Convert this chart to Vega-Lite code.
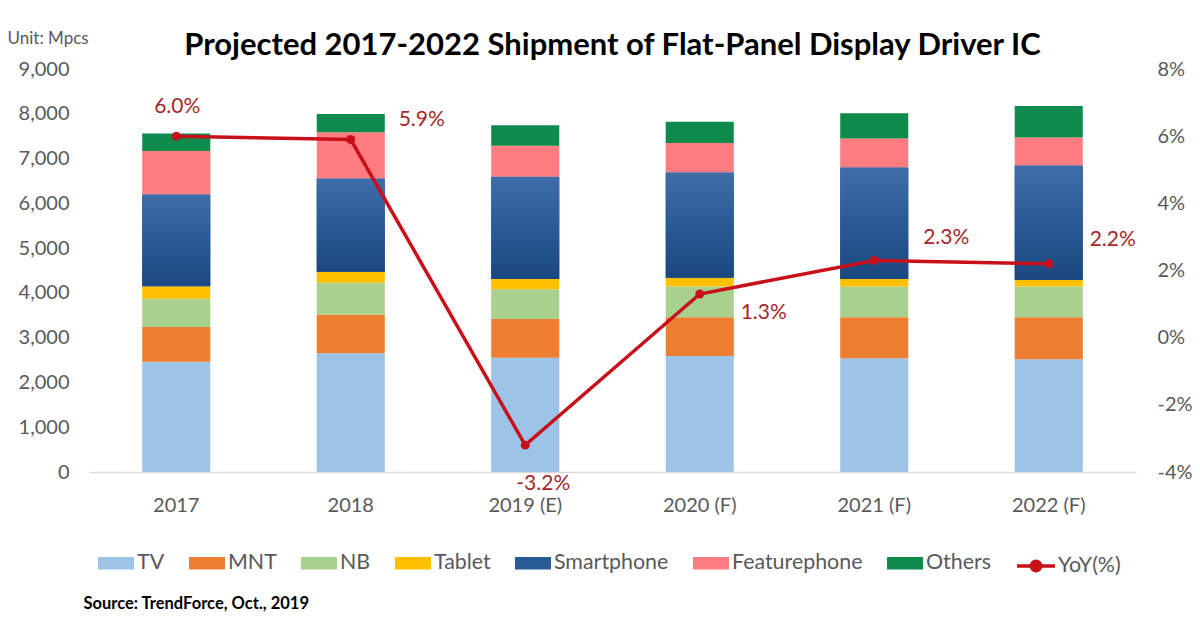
{
  "$schema": "https://vega.github.io/schema/vega-lite/v6.json",
  "width": 1047,
  "height": 403,
  "autosize": {"type": "none"},
  "padding": {"left": 89, "top": 69, "right": 64, "bottom": 146},
  "background": "white",
  "title": {
    "text": "Projected 2017-2022 Shipment of Flat-Panel Display Driver IC",
    "font": "Lato",
    "fontSize": 31,
    "fontWeight": "bold",
    "color": "#000000",
    "anchor": "middle",
    "offset": 8,
    "dy": 41
  },
  "config": {"view": {"stroke": null}, "font": "Lato"},
  "datasets": {
    "ship": [
      {"year": "2017", "segment": "TV", "value": 2460},
      {"year": "2017", "segment": "MNT", "value": 780},
      {"year": "2017", "segment": "NB", "value": 630},
      {"year": "2017", "segment": "Tablet", "value": 280},
      {"year": "2017", "segment": "Smartphone", "value": 2050},
      {"year": "2017", "segment": "Featurephone", "value": 970},
      {"year": "2017", "segment": "Others", "value": 390},
      {"year": "2018", "segment": "TV", "value": 2650},
      {"year": "2018", "segment": "MNT", "value": 870},
      {"year": "2018", "segment": "NB", "value": 705},
      {"year": "2018", "segment": "Tablet", "value": 245},
      {"year": "2018", "segment": "Smartphone", "value": 2085},
      {"year": "2018", "segment": "Featurephone", "value": 1030},
      {"year": "2018", "segment": "Others", "value": 410},
      {"year": "2019 (E)", "segment": "TV", "value": 2550},
      {"year": "2019 (E)", "segment": "MNT", "value": 865},
      {"year": "2019 (E)", "segment": "NB", "value": 665},
      {"year": "2019 (E)", "segment": "Tablet", "value": 230},
      {"year": "2019 (E)", "segment": "Smartphone", "value": 2285},
      {"year": "2019 (E)", "segment": "Featurephone", "value": 690},
      {"year": "2019 (E)", "segment": "Others", "value": 460},
      {"year": "2020 (F)", "segment": "TV", "value": 2590},
      {"year": "2020 (F)", "segment": "MNT", "value": 865},
      {"year": "2020 (F)", "segment": "NB", "value": 685},
      {"year": "2020 (F)", "segment": "Tablet", "value": 200},
      {"year": "2020 (F)", "segment": "Smartphone", "value": 2350},
      {"year": "2020 (F)", "segment": "Featurephone", "value": 660},
      {"year": "2020 (F)", "segment": "Others", "value": 470},
      {"year": "2021 (F)", "segment": "TV", "value": 2540},
      {"year": "2021 (F)", "segment": "MNT", "value": 915},
      {"year": "2021 (F)", "segment": "NB", "value": 685},
      {"year": "2021 (F)", "segment": "Tablet", "value": 170},
      {"year": "2021 (F)", "segment": "Smartphone", "value": 2490},
      {"year": "2021 (F)", "segment": "Featurephone", "value": 650},
      {"year": "2021 (F)", "segment": "Others", "value": 560},
      {"year": "2022 (F)", "segment": "TV", "value": 2520},
      {"year": "2022 (F)", "segment": "MNT", "value": 935},
      {"year": "2022 (F)", "segment": "NB", "value": 685},
      {"year": "2022 (F)", "segment": "Tablet", "value": 150},
      {"year": "2022 (F)", "segment": "Smartphone", "value": 2555},
      {"year": "2022 (F)", "segment": "Featurephone", "value": 625},
      {"year": "2022 (F)", "segment": "Others", "value": 705}
    ],
    "yoy": [
      {"year": "2017", "yoy": 6.0, "label": "6.0%"},
      {"year": "2018", "yoy": 5.9, "label": "5.9%"},
      {"year": "2019 (E)", "yoy": -3.2, "label": "-3.2%"},
      {"year": "2020 (F)", "yoy": 1.3, "label": "1.3%"},
      {"year": "2021 (F)", "yoy": 2.3, "label": "2.3%"},
      {"year": "2022 (F)", "yoy": 2.2, "label": "2.2%"}
    ]
  },
  "encoding": {
    "x": {
      "field": "year",
      "type": "nominal",
      "sort": null,
      "scale": {"paddingInner": 0.61, "paddingOuter": 0.305},
      "axis": {
        "title": "Source: TrendForce, Oct., 2019",
        "titleFont": "Lato",
        "titleFontSize": 16.5,
        "titleFontWeight": "bold",
        "titleColor": "#000000",
        "titleAnchor": "start",
        "titleAlign": "left",
        "titleBaseline": "middle",
        "titleX": -6,
        "titleY": 131,
        "labelAngle": 0,
        "labelFontSize": 20,
        "labelColor": "#595959",
        "labelPadding": 23,
        "ticks": false,
        "domainColor": "#D9D9D9",
        "domainWidth": 1.5
      }
    }
  },
  "layer": [
    {
      "data": {"name": "ship"},
      "transform": [
        {"calculate": "indexof(['TV','MNT','NB','Tablet','Smartphone','Featurephone','Others'], datum.segment)", "as": "stackOrder"},
        {"stack": "value", "groupby": ["year"], "sort": [{"field": "stackOrder", "order": "ascending"}], "as": ["v0", "v1"]}
      ],
      "encoding": {
        "y": {
          "field": "v0",
          "type": "quantitative",
          "scale": {"domain": [0, 9000], "nice": false},
          "axis": {
            "values": [0, 1000, 2000, 3000, 4000, 5000, 6000, 7000, 8000, 9000],
            "format": ",.0f",
            "grid": false,
            "domain": false,
            "ticks": false,
            "labelFontSize": 20,
            "labelColor": "#595959",
            "labelPadding": 20,
            "title": "Unit: Mpcs",
            "titleAngle": 0,
            "titleAlign": "left",
            "titleBaseline": "middle",
            "titleAnchor": null,
            "titleX": -82,
            "titleY": -31,
            "titleFontSize": 17,
            "titleFontWeight": "normal",
            "titleColor": "#595959"
          }
        },
        "y2": {"field": "v1"}
      },
      "layer": [
        {
          "mark": {"type": "bar"},
          "encoding": {
            "fill": {
              "field": "segment",
              "type": "nominal",
              "sort": ["TV", "MNT", "NB", "Tablet", "Smartphone", "Featurephone", "Others"],
              "scale": {
                "domain": ["TV", "MNT", "NB", "Tablet", "Smartphone", "Featurephone", "Others"],
                "range": ["#9DC3E6", "#ED7D31", "#A9D18E", "#FFC000", "#285A94", "#FF7C80", "#0E8B4C"]
              },
              "legend": {
                "orient": "none",
                "legendX": 9,
                "legendY": 476,
                "direction": "horizontal",
                "title": null,
                "symbolType": "M-1,-0.35H1V0.35H-1Z",
                "symbolSize": 1296,
                "symbolStrokeWidth": 0,
                "labelFontSize": 21.4,
                "labelColor": "#595959",
                "labelOffset": 3,
                "columnPadding": 24
              }
            }
          }
        },
        {
          "transform": [{"filter": "datum.segment == 'Smartphone'"}],
          "mark": {
            "type": "bar",
            "fill": {
              "gradient": "linear",
              "x1": 0, "y1": 0, "x2": 0, "y2": 1,
              "stops": [
                {"offset": 0, "color": "#3F6DA8"},
                {"offset": 0.5, "color": "#2A5A95"},
                {"offset": 1, "color": "#1A477F"}
              ]
            }
          }
        }
      ]
    },
    {
      "data": {"name": "yoy"},
      "encoding": {
        "y": {
          "field": "yoy",
          "type": "quantitative",
          "scale": {"domain": [-4, 8], "nice": false},
          "axis": {
            "orient": "right",
            "values": [-4, -2, 0, 2, 4, 6, 8],
            "labelExpr": "datum.value + '%'",
            "grid": false,
            "domain": false,
            "ticks": false,
            "labelFontSize": 20,
            "labelColor": "#595959",
            "labelPadding": 21,
            "title": null
          }
        }
      },
      "layer": [
        {
          "mark": {"type": "line", "strokeWidth": 3.5},
          "encoding": {
            "stroke": {
              "datum": "YoY(%)",
              "type": "nominal",
              "scale": {"domain": ["YoY(%)"], "range": ["#C8101A"]},
              "legend": {
                "orient": "none",
                "legendX": 926,
                "legendY": 476,
                "direction": "horizontal",
                "title": null,
                "symbolType": "M-1,0L1,0M-0.25,0A0.25,0.25,0,1,0,0.25,0A0.25,0.25,0,1,0,-0.25,0Z",
                "symbolSize": 1444,
                "symbolStrokeWidth": 3.5,
                "symbolFillColor": "#C8101A",
                "labelFontSize": 21.4,
                "labelColor": "#595959",
                "labelOffset": 1
              }
            }
          }
        },
        {
          "mark": {"type": "point", "filled": true, "size": 80, "color": "#C8101A", "opacity": 1},
          "encoding": {}
        },
        {
          "transform": [{"filter": "datum.year == '2017'"}],
          "mark": {"type": "text", "fontSize": 21, "color": "#A8262B", "dx": 1, "dy": -29},
          "encoding": {"text": {"field": "label"}}
        },
        {
          "transform": [{"filter": "datum.year == '2018'"}],
          "mark": {"type": "text", "fontSize": 21, "color": "#A8262B", "dx": 71, "dy": -20},
          "encoding": {"text": {"field": "label"}}
        },
        {
          "transform": [{"filter": "datum.year == '2019 (E)'"}],
          "mark": {"type": "text", "fontSize": 21, "color": "#A8262B", "dx": 18, "dy": 39},
          "encoding": {"text": {"field": "label"}}
        },
        {
          "transform": [{"filter": "datum.year == '2020 (F)'"}],
          "mark": {"type": "text", "fontSize": 21, "color": "#A8262B", "dx": 64, "dy": 19},
          "encoding": {"text": {"field": "label"}}
        },
        {
          "transform": [{"filter": "datum.year == '2021 (F)'"}],
          "mark": {"type": "text", "fontSize": 21, "color": "#A8262B", "dx": 72, "dy": -22},
          "encoding": {"text": {"field": "label"}}
        },
        {
          "transform": [{"filter": "datum.year == '2022 (F)'"}],
          "mark": {"type": "text", "fontSize": 21, "color": "#A8262B", "dx": 64, "dy": -24},
          "encoding": {"text": {"field": "label"}}
        }
      ]
    }
  ],
  "resolve": {"scale": {"y": "independent"}}
}
